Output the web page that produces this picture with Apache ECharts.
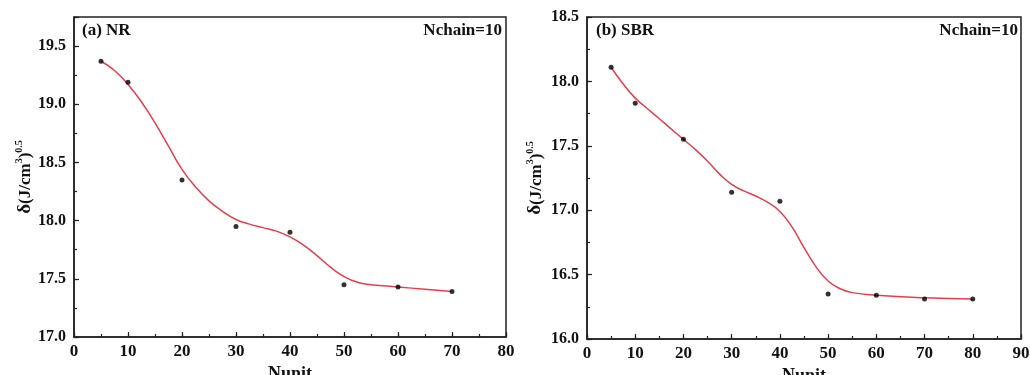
<!DOCTYPE html>
<html>
<head>
<meta charset="utf-8">
<script src="https://cdn.jsdelivr.net/npm/echarts@6/dist/echarts.min.js"></script>
<style>html,body{margin:0;padding:0;background:#fff}#c{width:1030px;height:375px}</style>
</head>
<body>
<div id="c"></div>
<script>
// Data points (Nunit, delta)
const nrX = [5, 10, 20, 30, 40, 50, 60, 70];
const nrY = [19.37, 19.19, 18.35, 17.95, 17.90, 17.45, 17.43, 17.39];
const sbrX = [5, 10, 20, 30, 40, 50, 60, 70, 80];
const sbrY = [18.11, 17.83, 17.55, 17.14, 17.07, 16.35, 16.34, 16.31, 16.31];
// Fitted red curves
const nrCurveX = [5, 7.5, 10, 12.5, 15, 17.5, 20, 22.5, 25, 27.5, 30, 32.5, 35, 37.5, 40, 42.5, 45, 47.5, 50, 52.5, 55, 60, 65, 70];
const nrCurveY = [19.37, 19.29, 19.17, 19.02, 18.84, 18.64, 18.44, 18.29, 18.17, 18.08, 18.01, 17.97, 17.94, 17.91, 17.86, 17.79, 17.70, 17.60, 17.52, 17.47, 17.45, 17.43, 17.41, 17.39];
const sbrCurveX = [5, 7.5, 10, 12.5, 15, 17.5, 20, 22.5, 25, 27.5, 30, 32.5, 35, 37.5, 40, 42.5, 45, 47.5, 50, 52.5, 55, 60, 70, 80];
const sbrCurveY = [18.11, 17.98, 17.87, 17.79, 17.71, 17.63, 17.55, 17.47, 17.38, 17.28, 17.20, 17.15, 17.11, 17.06, 16.99, 16.87, 16.71, 16.56, 16.45, 16.39, 16.36, 16.34, 16.32, 16.31];
// Axis settings
const nrXMax = 80, sbrXMax = 90;
const nrYMin = 17.0, nrYMax = 19.75;
const sbrYMin = 16.0, sbrYMax = 18.5;
const panelLabels = ['(a) NR', '(b) SBR'];
const chainLabel = 'Nchain=10';
const xName = 'Nunit';

const FONT = 'Liberation Serif';
const INK = '#111';
const zip = (xs, ys) => xs.map((x, i) => [x, ys[i]]);

function xAxis(gi, max) {
  return {
    gridIndex: gi, type: 'value', position: 'bottom', min: 0, max: max, interval: 10,
    name: xName, nameLocation: 'middle', nameGap: 25,
    nameTextStyle: { fontFamily: FONT, fontWeight: 'bold', fontSize: 18, color: INK },
    axisLine: { show: true, onZero: false, lineStyle: { color: '#222', width: 1.5 } },
    axisTick: { show: true, inside: true, length: 5, lineStyle: { color: '#222', width: 1.2 } },
    axisLabel: { fontFamily: FONT, fontWeight: 'bold', fontSize: 17, color: INK, margin: 6 },
    splitLine: { show: false }
  };
}
function xMinor(gi, max) {
  return {
    gridIndex: gi, type: 'value', position: 'bottom', min: 0, max: max, interval: 5,
    axisLine: { show: false }, axisLabel: { show: false }, splitLine: { show: false },
    axisTick: { show: true, inside: true, length: 3, lineStyle: { color: '#222', width: 1.2 } }
  };
}
function yAxis(gi, min, max, gap) {
  return {
    gridIndex: gi, type: 'value', position: 'left', min: min, max: max, interval: 0.5,
    name: '{d|δ}{t|(J/cm}{s|3}{t|)}{s|0.5}', nameLocation: 'middle', nameGap: gap,
    nameTextStyle: {
      color: INK,
      rich: {
        d: { fontFamily: FONT, fontWeight: 'bold', fontSize: 19, color: INK, lineHeight: 20, verticalAlign: 'bottom' },
        t: { fontFamily: FONT, fontWeight: 'bold', fontSize: 17, color: INK, lineHeight: 20, verticalAlign: 'bottom' },
        s: { fontFamily: FONT, fontWeight: 'bold', fontSize: 10, color: INK, lineHeight: 20, verticalAlign: 'top' }
      }
    },
    axisLine: { show: true, onZero: false, lineStyle: { color: '#222', width: 1.5 } },
    axisTick: { show: true, inside: true, length: 5, lineStyle: { color: '#222', width: 1.2 } },
    axisLabel: { fontFamily: FONT, fontWeight: 'bold', fontSize: 16, color: INK, margin: 8,
      formatter: v => (Math.abs(v * 2 - Math.round(v * 2)) < 1e-6 ? v.toFixed(1) : '') },
    splitLine: { show: false }
  };
}
function yMinor(gi, min, max) {
  return {
    gridIndex: gi, type: 'value', position: 'left', min: min, max: max, interval: 0.25,
    axisLine: { show: false }, axisLabel: { show: false }, splitLine: { show: false },
    axisTick: { show: true, inside: true, length: 3, lineStyle: { color: '#222', width: 1.2 } }
  };
}

const chart = echarts.init(document.getElementById('c'), null, { renderer: 'canvas' });
chart.setOption({
  backgroundColor: '#fff',
  animation: false,
  grid: [
    { left: 74, right: 524, top: 17, bottom: 38, show: true, borderColor: '#222', borderWidth: 1.5, outerBoundsMode: 'none', containLabel: false },
    { left: 587, right: 9, top: 17, bottom: 36, show: true, borderColor: '#222', borderWidth: 1.5, outerBoundsMode: 'none', containLabel: false }
  ],
  xAxis: [xAxis(0, nrXMax), xAxis(1, sbrXMax), xMinor(0, nrXMax), xMinor(1, sbrXMax)],
  yAxis: [yAxis(0, nrYMin, nrYMax, 38), yAxis(1, sbrYMin, sbrYMax, 42), yMinor(0, nrYMin, nrYMax), yMinor(1, sbrYMin, sbrYMax)],
  graphic: [
    { type: 'text', left: 82, top: 22, style: { text: panelLabels[0], font: 'bold 17px "Liberation Serif"', fill: INK } },
    { type: 'text', right: 528, top: 22, style: { text: chainLabel, font: 'bold 17px "Liberation Serif"', fill: INK } },
    { type: 'text', left: 596, top: 22, style: { text: panelLabels[1], font: 'bold 17px "Liberation Serif"', fill: INK } },
    { type: 'text', right: 12, top: 22, style: { text: chainLabel, font: 'bold 17px "Liberation Serif"', fill: INK } }
  ],
  series: [
    { type: 'line', xAxisIndex: 0, yAxisIndex: 0, data: zip(nrCurveX, nrCurveY), smooth: 0.5, showSymbol: false,
      lineStyle: { color: '#e3404e', width: 1.5 }, z: 2 },
    { type: 'scatter', xAxisIndex: 0, yAxisIndex: 0, data: zip(nrX, nrY), symbolSize: 5,
      itemStyle: { color: '#000' }, z: 3 },
    { type: 'line', xAxisIndex: 1, yAxisIndex: 1, data: zip(sbrCurveX, sbrCurveY), smooth: 0.5, showSymbol: false,
      lineStyle: { color: '#e3404e', width: 1.5 }, z: 2 },
    { type: 'scatter', xAxisIndex: 1, yAxisIndex: 1, data: zip(sbrX, sbrY), symbolSize: 5,
      itemStyle: { color: '#000' }, z: 3 }
  ]
});
</script>
</body>
</html>
